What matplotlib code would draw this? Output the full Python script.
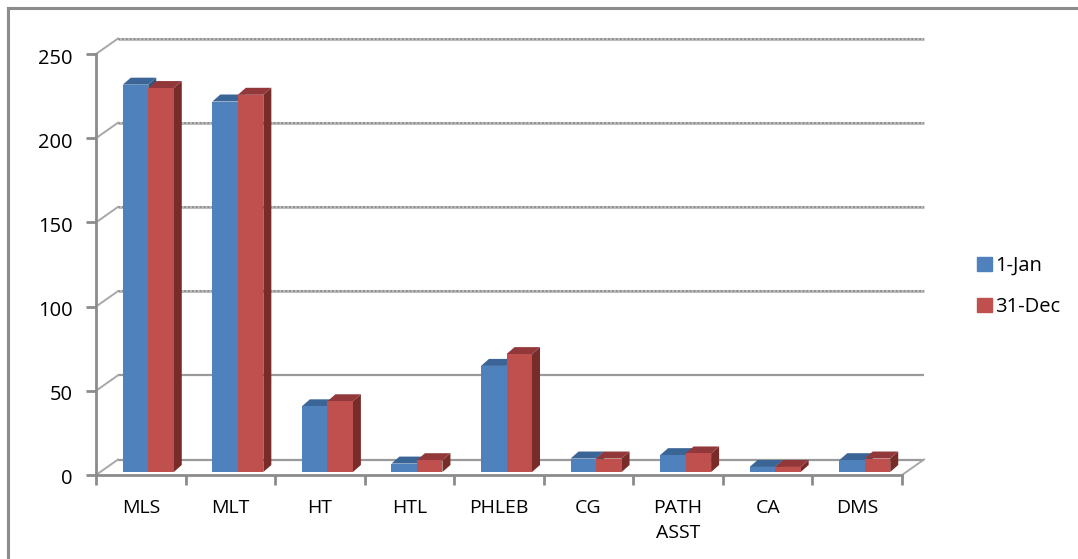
import matplotlib
matplotlib.use("Agg")
import matplotlib.pyplot as plt
from matplotlib.patches import Polygon, Patch
from matplotlib.lines import Line2D
from matplotlib.transforms import Affine2D
import numpy as np

categorias = ["MLS", "MLT", "HT", "HTL", "PHLEB", "CG", "PATH\nASST", "CA", "DMS"]
jan = [230, 220, 39, 5, 63, 8, 10, 3, 7]
dez = [228, 224, 42, 7, 70, 8, 11, 3, 8]
ticks_y = [0, 50, 100, 150, 200, 250]

AZUL = "#4F81BD"
VERMELHO = "#C0504D"
CINZA = "#8C8C8C"

plt.rcParams["font.family"] = ["Open Sans", "DejaVu Sans"]

fig = plt.figure(figsize=(10.78, 5.59), dpi=100)
ax = fig.add_axes([96 / 1078, (559 - 475) / 559, 806 / 1078, 421 / 559])
ax.set_xlim(0, 9)
ax.set_ylim(0, 250)

# profundidade em unidades de dado
px_x = 9 / 806
px_y = 250 / 421
prof_x, prof_y = 22 * px_x, 15.5 * px_y
barra_x, barra_y = 8 * px_x, 7 * px_y
base = 3 * px_y
larg = 25.5 * px_x
desloc = 7.5 * px_x

# parede do fundo
for t in ticks_y:
    xs = [prof_x, 9 + prof_x]
    ys = [t + prof_y, t + prof_y]
    if t in (0, 50):
        ax.plot(xs, ys, color="#9A9A9A", lw=1.6, zorder=1, clip_on=False, solid_capstyle="butt")
    else:
        ax.plot(xs, ys, color="#BDBDBD", lw=2.2, zorder=1, clip_on=False, solid_capstyle="butt")
        ax.plot(xs, ys, color="#8F8F8F", lw=1.4, ls=(0, (1, 1)), zorder=1, clip_on=False)
    ax.plot([0, prof_x], [t, t + prof_y], color="#A8A8A8", lw=1.4, zorder=1, clip_on=False)
ax.plot([9, 9 + prof_x], [0, prof_y], color="#A8A8A8", lw=1.4, zorder=1, clip_on=False)

# barras
x = np.arange(len(categorias)) + 0.5 + desloc
for serie, cor, topo, lado, pos in [
    (jan, AZUL, "#3A6596", "#2F5480", x - larg),
    (dez, VERMELHO, "#93383A", "#772C2A", x),
]:
    ax.bar(pos, serie, width=larg, bottom=base, align="edge", color=cor, zorder=3)
    for xi, v in zip(pos, serie):
        y1 = v + base
        ax.add_patch(Polygon([(xi, y1), (xi + larg, y1), (xi + larg + barra_x, y1 + barra_y),
                              (xi + barra_x, y1 + barra_y)], color=topo, lw=0, zorder=2.6,
                             clip_on=False))
        ax.add_patch(Polygon([(xi + larg, base), (xi + larg + barra_x, base + barra_y),
                              (xi + larg + barra_x, y1 + barra_y), (xi + larg, y1)],
                             color=lado, lw=0, zorder=2.5, clip_on=False))

# eixos
for s in ("top", "right"):
    ax.spines[s].set_visible(False)
for s in ("left", "bottom"):
    ax.spines[s].set_color(CINZA)
    ax.spines[s].set_linewidth(2)
    ax.spines[s].set_zorder(4)
ax.set_yticks(ticks_y)
ax.set_xticks(range(10))
ax.set_xticklabels([])
ax.set_xticks(np.arange(9) + 0.5, categorias, minor=True, linespacing=1.5)
ax.tick_params(axis="y", length=7, width=2, color=CINZA, labelsize=14.5, pad=10, labelcolor="black")
ax.tick_params(axis="x", which="major", length=7, width=2, color=CINZA)
ax.tick_params(axis="x", which="minor", length=0, labelsize=14, pad=17, labelcolor="black")
for lab in ax.get_yticklabels():
    lab.set_transform(lab.get_transform() + Affine2D().translate(0, -2))

# moldura
fig.add_artist(Line2D([7.5 / 1078, 7.5 / 1078], [0, 1 - 7.5 / 559], color=CINZA, lw=2.2))
fig.add_artist(Line2D([7.5 / 1078, 1], [1 - 7.5 / 559, 1 - 7.5 / 559], color=CINZA, lw=2.2))

fig.legend(handles=[Patch(color=AZUL, label="1-Jan"), Patch(color=VERMELHO, label="31-Dec")],
           loc="center left", bbox_to_anchor=(975 / 1078, 1 - 286.5 / 559), frameon=False,
           fontsize=14.5, handlelength=0.72, handleheight=0.72, handletextpad=0.2,
           labelspacing=1.05, borderpad=0.1, borderaxespad=0)

fig.savefig("out.png", dpi=100)
